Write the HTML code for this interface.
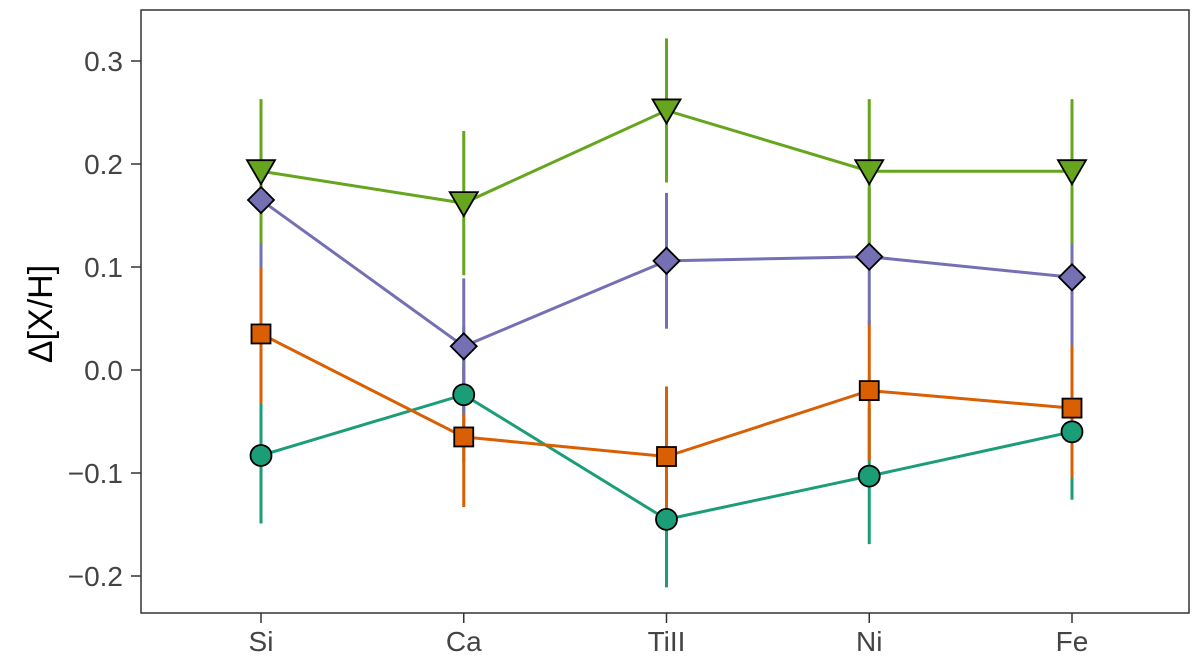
<!DOCTYPE html>
<html><head><meta charset="utf-8"><style>
body{margin:0;background:#fff;}
svg{display:block;font-family:"Liberation Sans",sans-serif;}
</style></head><body>
<svg id="chart" width="1200" height="664" viewBox="0 0 1200 664" xmlns="http://www.w3.org/2000/svg">
<rect x="141" y="10" width="1048" height="603" fill="#fff" stroke="#333" stroke-width="1.5"/>
<g id="yaxis"></g>
<g id="xaxis"></g>
<g id="bars"></g>
<g id="lines"></g>
<g id="points"></g>
<text transform="translate(52,314) rotate(-90)" text-anchor="middle" font-size="34" fill="#000">Δ[X/H]</text>
</svg>
<script>
const categories = ["Si","Ca","TiII","Ni","Fe"];
const yTicks = [-0.2,-0.1,0.0,0.1,0.2,0.3];
const yTickLabels = ["\u22120.2","\u22120.1","0.0","0.1","0.2","0.3"];
const tealValues = [-0.083,-0.024,-0.145,-0.103,-0.060];
const tealErrors = [0.066,0.066,0.066,0.066,0.066];
const orangeValues = [0.035,-0.065,-0.084,-0.020,-0.037];
const orangeErrors = [0.068,0.068,0.068,0.068,0.068];
const purpleValues = [0.165,0.023,0.106,0.110,0.090];
const purpleErrors = [0.066,0.066,0.066,0.066,0.066];
const greenValues = [0.193,0.162,0.252,0.193,0.193];
const greenErrors = [0.07,0.07,0.07,0.07,0.07];

const NS="http://www.w3.org/2000/svg";
function xs(i){return 261+i*202.75;}
function ys(v){return 370-v*1030;}
function mk(tag,parent,attrs){const e=document.createElementNS(NS,tag);for(const k in attrs)e.setAttribute(k,attrs[k]);parent.appendChild(e);return e;}
const ya=document.getElementById('yaxis'),xa=document.getElementById('xaxis');
yTicks.forEach((t,i)=>{
  const l=mk('line',ya,{x1:131,x2:141,y1:ys(t),y2:ys(t),stroke:'#333','stroke-width':1.5});
  
  
  const tx=mk('text',ya,{x:123,y:ys(t)+10,'text-anchor':'end','font-size':28,fill:'#444'});
  tx.textContent=yTickLabels[i];
  
  
});
categories.forEach((c,i)=>{
  const l=mk('line',xa,{x1:xs(i),x2:xs(i),y1:613,y2:623,stroke:'#333','stroke-width':1.5});
  
  
  const tx=mk('text',xa,{x:xs(i),y:651,'text-anchor':'middle','font-size':28,fill:'#444'});
  tx.textContent=c;
  
  
});
const series=[
  {name:'teal',v:tealValues,e:tealErrors,c:'#1b9e77',s:'circle'},
  {name:'orange',v:orangeValues,e:orangeErrors,c:'#d95f02',s:'square'},
  {name:'purple',v:purpleValues,e:purpleErrors,c:'#7570b3',s:'diamond'},
  {name:'green',v:greenValues,e:greenErrors,c:'#66a61e',s:'triangle'}
];
const bg=document.getElementById('bars'),lg=document.getElementById('lines'),pg=document.getElementById('points');
series.forEach(s=>{
  s.v.forEach((v,i)=>{
    const b=mk('line',bg,{x1:xs(i),x2:xs(i),y1:ys(v+s.e[i]),y2:ys(v-s.e[i]),stroke:s.c,'stroke-width':3});
    
    
  });
});
series.forEach(s=>{
  const p=mk('polyline',lg,{points:s.v.map((v,i)=>xs(i)+','+ys(v)).join(' '),fill:'none',stroke:s.c,'stroke-width':3});
  
  
});
series.forEach(s=>{
  s.v.forEach((v,i)=>{
    const x=xs(i),y=ys(v);let m;
    const st={fill:s.c,stroke:'#000','stroke-width':1.8};
    if(s.s==='circle')m=mk('circle',pg,Object.assign({cx:x,cy:y,r:10.5},st));
    else if(s.s==='square')m=mk('rect',pg,Object.assign({x:x-9.5,y:y-9.5,width:19,height:19},st));
    else if(s.s==='diamond')m=mk('polygon',pg,Object.assign({points:`${x},${y-13} ${x+13},${y} ${x},${y+13} ${x-13},${y}`},st));
    else m=mk('polygon',pg,Object.assign({points:`${x-14},${y-11} ${x+14},${y-11} ${x},${y+13}`},st));
    
    
  });
});
</script>
</body></html>
